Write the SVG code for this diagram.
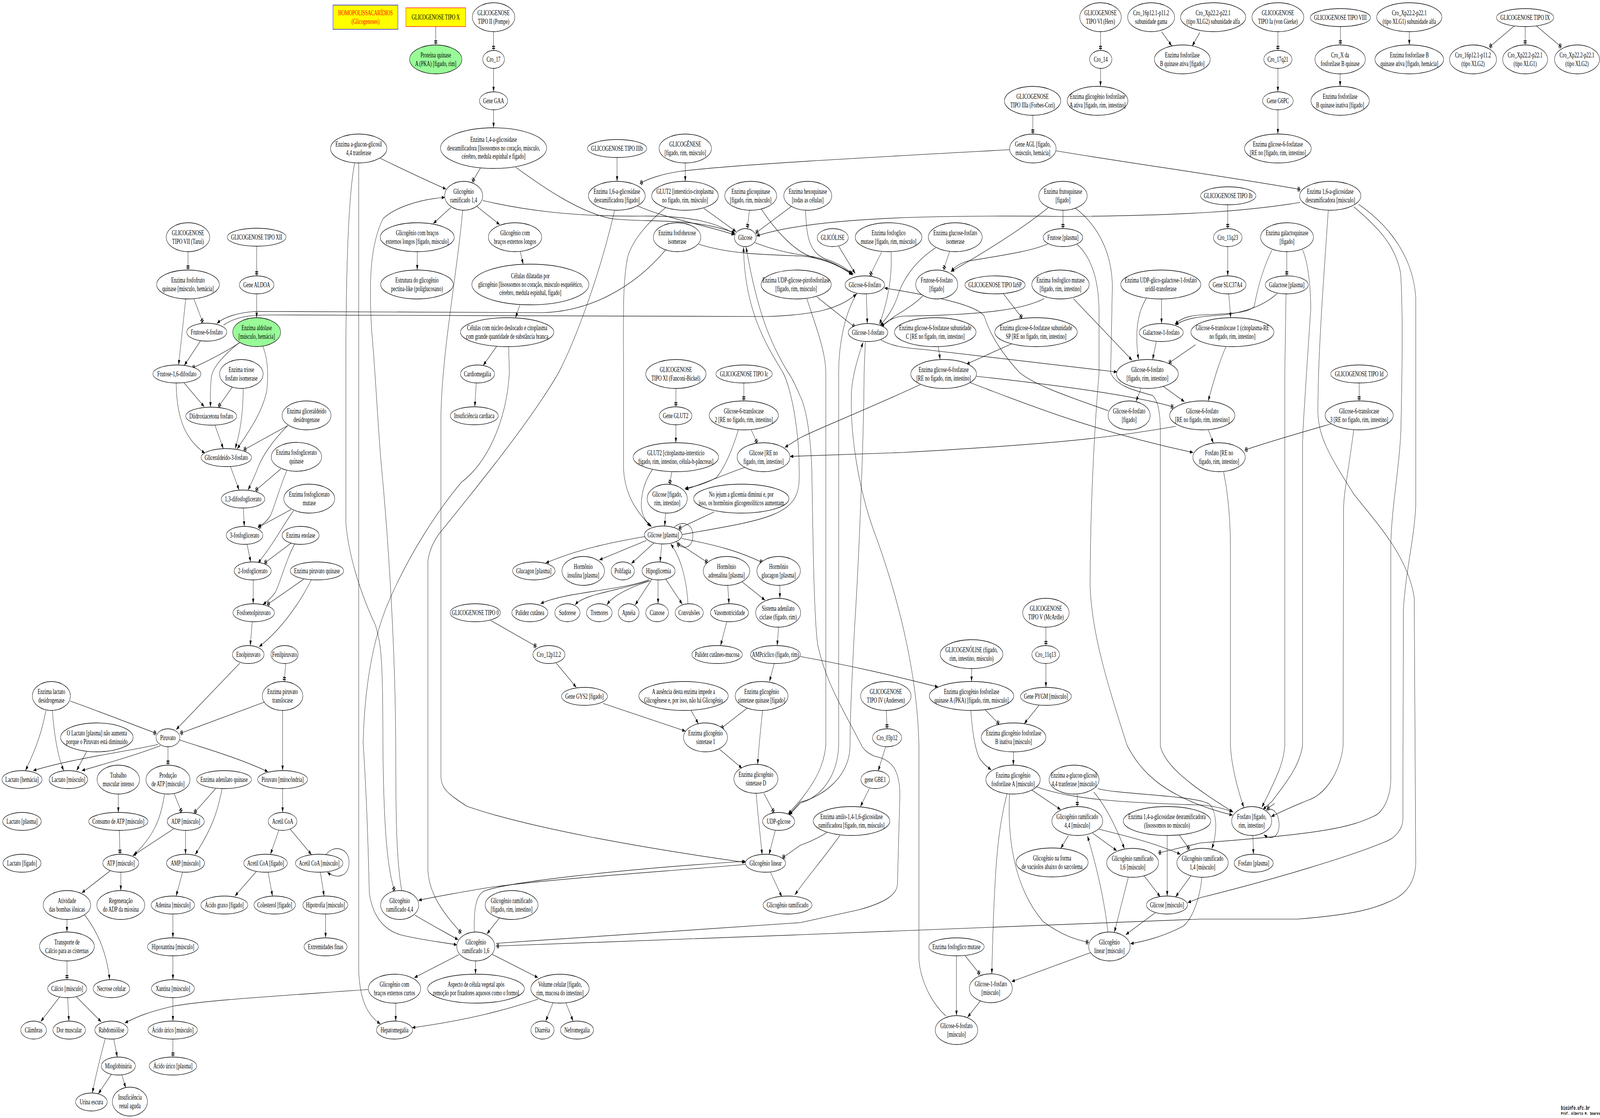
<svg xmlns="http://www.w3.org/2000/svg" width="6477" height="2861" viewBox="0 0 6477 2861" preserveAspectRatio="none">
<style>
svg{width:100%;height:100%}
.node ellipse{fill:#fff;stroke:#000;stroke-width:1.3}
.green ellipse{fill:#98fb98}
text{font-family:"Liberation Serif","Times New Roman",serif;font-size:18.67px;text-anchor:middle;fill:#000}
#edges path{fill:none;stroke:#000;stroke-width:1.2}
#edges .a{marker-end:url(#ah)}
#edges .t{marker-end:url(#tt)}
.foot{font-family:"Liberation Mono","DejaVu Sans Mono",monospace;font-weight:bold;text-anchor:start}
</style>
<defs>
<marker id="ah" markerUnits="userSpaceOnUse" markerWidth="14" markerHeight="10" refX="13" refY="5" orient="auto"><path d="M0,0.5L13,5L0,9.5z" fill="#000"/></marker>
<marker id="tt" markerUnits="userSpaceOnUse" markerWidth="14" markerHeight="14" refX="13" refY="7" orient="auto"><path d="M1.5,1h2.6v12h-2.6zM6.5,1h2.6v12h-2.6z" fill="#000"/><path d="M0,7H13" stroke="#000" stroke-width="1.2"/></marker>
</defs>
<rect width="6477" height="2861" fill="#fff"/>
<g id="edges">
<path class="t" d="M1764,68L1764,115"/>
<path class="t" d="M1998,81L1998,129"/>
<path class="a" d="M1998,175L1998,235"/>
<path class="a" d="M1998,281L1998,327"/>
<path class="t" d="M1945,430L1911,466"/>
<path class="a" d="M2088,428C2200,480 2350,545 2480,560C2620,570 2800,555 2975,596"/>
<path class="a" d="M1954,513C2100,535 2300,555 2600,553C2800,552 2900,570 2975,599"/>
<path class="a" d="M2581,527C2700,560 2850,575 2974,601"/>
<path class="a" d="M2849,533L2980,593"/>
<path class="t" d="M3034,538L3025,585"/>
<path class="t" d="M3206,527L3058,597"/>
<path class="a" d="M5263,518C5050,540 4800,552 4300,554C3800,550 3300,555 3062,604"/>
<path class="t" d="M4087,383C3600,400 3000,420 2757,438C2680,445 2620,458 2590,470"/>
<path class="t" d="M4275,386C4600,420 5000,455 5265,485"/>
<path class="a" d="M2498,403L2498,464"/>
<path class="a" d="M2774,417L2774,464"/>
<path class="a" d="M1539,405C1620,430 1720,460 1806,484"/>
<path class="a" d="M1825,531L1754,572"/>
<path class="a" d="M1930,528L2023,575"/>
<path class="a" d="M1689,644L1689,691"/>
<path class="a" d="M2106,644L2118,676"/>
<path class="a" d="M2104,781L2087,813"/>
<path class="a" d="M2011,886L1956,935"/>
<path class="a" d="M1928,980L1922,1041"/>
<path class="a" d="M1873,538C1850,700 1790,900 1785,1060L1785,1990C1790,2020 1811,2030 1889,2063C2137,2118 2600,2170 3018,2207"/>
<path class="t" d="M2488,538C2430,700 2330,870 2261,954C2150,1076 1930,1247 1775,1368C1740,1400 1732,1430 1732,1441L1732,2224C1735,2290 1800,2340 1868,2388"/>
<path class="a" d="M2059,888L2062,954C2050,1080 1971,1185 1868,1234C1780,1300 1650,1420 1560,1560C1500,1660 1475,1780 1470,1900C1480,2000 1488,2100 1495,2285C1510,2350 1560,2380 1620,2392C1700,2405 1780,2410 1850,2418"/>
<path class="a" d="M1452,417L1452,2480C1455,2560 1490,2600 1540,2620"/>
<path class="t" d="M1436,416C1410,500 1400,700 1400,954L1400,1337C1410,1420 1460,1520 1520,1600C1545,1650 1550,1700 1550,1908C1553,2100 1565,2220 1598,2281"/>
<path class="a" d="M1626,2279C1605,2200 1602,2100 1602,1908C1600,1600 1560,1300 1545,1200C1530,1100 1520,950 1505,850C1490,700 1505,620 1550,560C1600,530 1700,510 1801,505"/>
<path class="a" d="M1680,2342C1740,2365 1800,2385 1855,2405"/>
<path class="a" d="M3018,2212C2700,2230 2200,2250 1961,2273C1850,2285 1760,2295 1694,2304"/>
<path class="a" d="M1920,2385C1918,2330 1925,2290 1961,2280C2050,2258 2500,2225 3018,2204"/>
<path class="a" d="M2023,2348L1971,2390"/>
<path class="a" d="M1858,2443L1677,2502"/>
<path class="a" d="M1925,2459L1925,2493"/>
<path class="a" d="M1992,2442L2178,2502"/>
<path class="a" d="M2240,2564L2209,2613"/>
<path class="a" d="M2290,2565L2320,2613"/>
<path class="a" d="M2178,2557C2054,2583 1900,2610 1668,2630"/>
<path class="a" d="M1602,2567L1602,2613"/>
<path class="a" d="M1491,2532C1100,2550 827,2560 700,2575C600,2590 560,2600 505,2618"/>
<path class="t" d="M5377,539C5360,700 5335,900 5335,1057C5340,1120 5377,1161 5480,1264C5560,1330 5700,1420 5725,1530L5731,2206C5731,2250 5700,2280 5656,2297C5573,2327 5470,2341 5253,2352L4860,2352L3240,2392L2008,2421"/>
<path class="t" d="M5480,529C5583,584 5650,630 5670,700C5680,800 5676,954 5671,1100C5665,1200 5632,1300 5630,1400L5630,1993C5630,2040 5600,2080 5557,2090C5470,2115 5377,2133 4860,2157L4688,2183"/>
<path class="a" d="M5500,523C5630,580 5720,660 5731,760L5731,1295C5725,1380 5690,1460 5681,1562L5679,2097C5679,2120 5650,2145 5604,2155C5480,2188 5170,2249 4860,2297L4808,2310"/>
<path class="a" d="M2694,640C2560,740 2380,797 2200,800L1033,797C960,800 905,812 878,828"/>
<path class="a" d="M905,832C950,812 1000,806 1100,806L3100,810C3300,806 3400,790 3467,752"/>
<path class="t" d="M761,644L761,691"/>
<path class="t" d="M1039,630L1039,706"/>
<path class="a" d="M1039,752L1039,813"/>
<path class="t" d="M785,765L822,827"/>
<path class="a" d="M752,765L723,934"/>
<path class="a" d="M811,873L746,935"/>
<path class="t" d="M971,877C900,905 840,925 777,942"/>
<path class="a" d="M966,878C900,912 865,940 857,960C850,990 852,1020 852,1042"/>
<path class="a" d="M1064,886C1085,920 1087,960 1080,1000C1060,1060 1000,1110 960,1149"/>
<path class="a" d="M744,979L827,1041"/>
<path class="a" d="M713,980C715,1060 740,1120 830,1160"/>
<path class="t" d="M940,991L883,1042"/>
<path class="a" d="M984,994C985,1050 975,1100 952,1148"/>
<path class="a" d="M870,1088L904,1148"/>
<path class="t" d="M1165,1089L985,1152"/>
<path class="a" d="M1165,1089C1100,1130 1060,1170 1044,1197C1030,1220 1015,1240 1004,1254"/>
<path class="a" d="M933,1194L968,1254"/>
<path class="t" d="M1137,1200L1033,1256"/>
<path class="a" d="M1162,1203C1130,1250 1110,1300 1095,1319C1080,1335 1060,1343 1044,1349"/>
<path class="a" d="M985,1300L989,1347"/>
<path class="t" d="M1178,1304L1044,1350"/>
<path class="a" d="M1188,1307C1150,1340 1110,1390 1044,1441"/>
<path class="a" d="M1000,1393L1015,1438"/>
<path class="t" d="M1178,1390L1069,1442"/>
<path class="a" d="M1193,1392C1160,1430 1140,1480 1116,1514C1100,1530 1080,1540 1064,1547"/>
<path class="a" d="M1025,1484L1025,1545"/>
<path class="t" d="M1230,1482L1080,1548"/>
<path class="a" d="M1261,1483C1200,1560 1120,1620 1049,1655"/>
<path class="a" d="M1021,1591L1013,1652"/>
<path class="a" d="M971,1697L713,1867"/>
<path class="t" d="M1157,1698L1150,1744"/>
<path class="t" d="M1069,1797L728,1877"/>
<path class="t" d="M284,1794C400,1820 520,1850 634,1877"/>
<path class="a" d="M186,1818C170,1870 150,1910 103,1972"/>
<path class="a" d="M212,1818C218,1870 230,1930 258,1972"/>
<path class="a" d="M640,1905C500,1925 300,1940 134,1972"/>
<path class="a" d="M650,1908C560,1930 450,1950 331,1972"/>
<path class="a" d="M351,1923L310,1972"/>
<path class="t" d="M680,1911L680,1958"/>
<path class="a" d="M726,1893C800,1910 950,1935 1085,1975"/>
<path class="a" d="M1144,1818L1144,1972"/>
<path class="a" d="M479,2032L479,2079"/>
<path class="t" d="M705,2031L736,2080"/>
<path class="t" d="M873,2018L785,2081"/>
<path class="a" d="M899,2018C880,2080 858,2120 790,2187"/>
<path class="a" d="M666,2032C650,2100 620,2140 542,2188"/>
<path class="a" d="M703,2121L537,2190"/>
<path class="a" d="M751,2125L751,2186"/>
<path class="t" d="M483,2125L486,2186"/>
<path class="a" d="M1144,2018L1144,2079"/>
<path class="a" d="M1129,2124L1095,2186"/>
<path class="a" d="M1175,2122L1261,2187"/>
<path class="a" d="M1320,2187C1350,2160 1413,2170 1413,2206C1413,2245 1360,2250 1325,2232"/>
<path class="a" d="M1038,2230L951,2293"/>
<path class="a" d="M1085,2231L1103,2293"/>
<path class="a" d="M1297,2232L1312,2293"/>
<path class="a" d="M1318,2339L1318,2400"/>
<path class="a" d="M449,2227L331,2285"/>
<path class="a" d="M489,2232L489,2279"/>
<path class="a" d="M739,2232L713,2293"/>
<path class="a" d="M700,2339L700,2400"/>
<path class="a" d="M700,2446L700,2507"/>
<path class="a" d="M700,2553L700,2613"/>
<path class="t" d="M700,2659L700,2705"/>
<path class="a" d="M271,2353L271,2385"/>
<path class="a" d="M341,2340C390,2380 430,2430 444,2507"/>
<path class="t" d="M271,2459L271,2507"/>
<path class="a" d="M243,2550L165,2614"/>
<path class="a" d="M274,2553L279,2613"/>
<path class="a" d="M308,2550L410,2615"/>
<path class="a" d="M460,2658L475,2705"/>
<path class="a" d="M426,2658C400,2720 385,2760 374,2797"/>
<path class="a" d="M451,2749L398,2799"/>
<path class="a" d="M493,2750L509,2784"/>
<path class="t" d="M4455,81L4455,129"/>
<path class="a" d="M4455,175L4455,221"/>
<path class="a" d="M4702,81L4743,117"/>
<path class="a" d="M4857,83L4826,118"/>
<path class="t" d="M4181,295L4181,343"/>
<path class="t" d="M5173,81L5173,129"/>
<path class="a" d="M5173,175L5173,235"/>
<path class="a" d="M5173,281L5173,343"/>
<path class="t" d="M5426,68L5426,115"/>
<path class="a" d="M5425,189L5425,221"/>
<path class="a" d="M5705,81L5705,115"/>
<path class="t" d="M6131,66L6028,121"/>
<path class="t" d="M6174,68L6174,115"/>
<path class="t" d="M6219,66L6322,121"/>
<path class="t" d="M4303,538L4303,585"/>
<path class="a" d="M4244,531C4150,580 4000,640 3850,695"/>
<path class="a" d="M4242,624C4170,645 4015,657 3912,669C3880,676 3860,685 3850,696"/>
<path class="t" d="M3844,644L3819,691"/>
<path class="a" d="M4354,533C4450,580 4500,650 4503,730L4496,954C4520,990 4600,1000 4666,1012C4695,1030 4697,1076 4697,1100L4697,1908C4710,1950 4790,2000 4992,2078"/>
<path class="a" d="M4360,625C4420,660 4449,720 4449,800L4449,954C4430,1100 4413,1300 4413,1502C4420,1620 4480,1745 4563,1908C4614,1969 4700,2040 4990,2086"/>
<path class="a" d="M3395,630L3462,700"/>
<path class="t" d="M3569,645L3521,706"/>
<path class="a" d="M3607,645C3612,700 3600,760 3560,830"/>
<path class="a" d="M3788,634C3700,670 3650,720 3633,760C3610,800 3580,820 3562,834"/>
<path class="a" d="M3082,535C3150,600 3230,650 3300,660C3360,668 3410,685 3450,700"/>
<path class="a" d="M3261,538C3265,600 3271,645 3343,663C3400,675 3430,690 3455,702"/>
<path class="a" d="M3056,621C3150,645 3240,652 3300,658C3360,665 3410,685 3452,704"/>
<path class="a" d="M2829,625C2950,650 3100,652 3240,655C3330,660 3400,680 3450,703"/>
<path class="a" d="M3507,752L3511,828"/>
<path class="a" d="M3736,757C3700,780 3653,797 3620,810C3600,820 3580,830 3566,836"/>
<path class="a" d="M4227,764C4150,790 4000,806 3653,809C3610,812 3585,825 3566,837"/>
<path class="t" d="M3307,760L3462,838"/>
<path class="a" d="M3566,870C3610,885 3650,890 3750,895L4522,952"/>
<path class="t" d="M4061,751L4139,815"/>
<path class="a" d="M3798,887L3806,920"/>
<path class="a" d="M4098,879L3912,932"/>
<path class="a" d="M4486,1051C4350,1020 4200,990 4128,954C4050,900 4005,852 3985,810C3960,782 3800,760 3580,737"/>
<path class="a" d="M4619,994L4599,1027"/>
<path class="a" d="M4707,988L4795,1028"/>
<path class="a" d="M4963,887C4940,920 4922,954 4891,1026"/>
<path class="a" d="M4891,1100L4912,1134"/>
<path class="t" d="M5387,1085C5250,1110 5139,1130 5038,1152"/>
<path class="t" d="M5502,980L5502,1026"/>
<path class="a" d="M5480,1100C5460,1200 5440,1260 5439,1300L5437,1908C5430,1960 5380,2030 5294,2048C5230,2065 5190,2075 5146,2090"/>
<path class="a" d="M4953,1206C4970,1260 4981,1320 4981,1400L4981,1908C4985,1960 5010,2020 5035,2066"/>
<path class="a" d="M5072,2138L5074,2186"/>
<path class="a" d="M5122,2075C5160,2060 5178,2090 5178,2110C5178,2140 5150,2152 5116,2136"/>
<path class="t" d="M5160,2056L5127,2071"/>
<path class="a" d="M5273,639C5300,680 5306,750 5306,791L5289,954C5280,1050 5273,1100 5273,1143L5273,1908C5260,1960 5211,1999 5150,2050L5112,2072"/>
<path class="a" d="M5206,752L5201,954L5201,1908C5195,1950 5180,1975 5108,2066"/>
<path class="t" d="M4970,524L4970,585"/>
<path class="a" d="M4970,631L4970,706"/>
<path class="a" d="M4974,752L4982,813"/>
<path class="t" d="M5209,644L5209,706"/>
<path class="a" d="M5149,640C5110,690 5090,740 5077,785C5050,800 4994,803 4860,806C4810,808 4780,815 4756,830"/>
<path class="a" d="M5170,751C5130,775 5060,798 4950,806C4860,810 4800,813 4758,832"/>
<path class="a" d="M4702,765L4702,828"/>
<path class="a" d="M4640,764C4605,800 4593,852 4609,920"/>
<path class="a" d="M4681,873L4666,920"/>
<path class="a" d="M4345,764L4583,922"/>
<path class="t" d="M4840,882L4730,930"/>
<path class="a" d="M3726,984C3500,1050 3300,1100 3240,1120L3177,1145"/>
<path class="a" d="M4759,1091C4500,1120 4273,1136 3653,1158L3198,1168"/>
<path class="a" d="M3922,978C4100,1020 4400,1100 4830,1158"/>
<path class="t" d="M3953,963C4200,980 4583,1009 4752,1042"/>
<path class="t" d="M2736,994L2736,1041"/>
<path class="a" d="M2736,1087L2736,1133"/>
<path class="t" d="M3011,980L3011,1026"/>
<path class="t" d="M3041,1100L3066,1135"/>
<path class="a" d="M2989,1100C2960,1160 2932,1197 2901,1222C2850,1240 2810,1245 2772,1250"/>
<path class="a" d="M3015,1196C2950,1210 2880,1230 2774,1253"/>
<path class="t" d="M2720,1207L2710,1240"/>
<path class="a" d="M2643,1200C2610,1230 2596,1260 2596,1295C2598,1320 2615,1335 2638,1348"/>
<path class="a" d="M2695,531C2640,560 2560,610 2540,660C2520,730 2524,800 2524,954L2524,1200C2530,1270 2580,1310 2633,1347"/>
<path class="a" d="M2694,1313L2691,1346"/>
<path class="t" d="M2891,1310L2746,1353"/>
<path class="t" d="M2728,1350C2760,1330 2805,1340 2805,1370C2805,1400 2770,1410 2740,1390"/>
<path class="a" d="M2612,1373C2500,1385 2343,1404 2209,1441"/>
<path class="a" d="M2617,1383L2426,1433"/>
<path class="a" d="M2648,1389L2556,1442"/>
<path class="a" d="M2679,1392L2672,1438"/>
<path class="t" d="M2736,1386L2866,1440"/>
<path class="t" d="M2760,1378C2900,1395 2990,1410 3088,1440"/>
<path class="a" d="M2760,1368C3100,1330 3230,1320 3235,1230C3240,1100 3200,990 3170,954C3110,890 3013,800 3010,632"/>
<path class="a" d="M2008,2414C2447,2395 2900,2375 3240,2361L3478,2328C3581,2310 3633,2290 3633,2261L3643,2030C3640,1970 3612,1944 3540,1935C3500,1925 3488,1908 3488,1908C3400,1800 3343,1745 3310,1650C3292,1562 3290,1300 3286,1197C3280,1100 3260,1040 3240,1015C3220,985 3200,960 3191,954C3120,880 3066,800 3020,632"/>
<path class="a" d="M2627,1483C2530,1510 2281,1515 2188,1545"/>
<path class="a" d="M2627,1486C2500,1512 2364,1520 2328,1548"/>
<path class="a" d="M2632,1486C2540,1505 2480,1525 2457,1548"/>
<path class="a" d="M2638,1483L2571,1548"/>
<path class="a" d="M2664,1484L2664,1545"/>
<path class="a" d="M2695,1482L2762,1546"/>
<path class="a" d="M2785,1545C2780,1490 2760,1430 2715,1392"/>
<path class="a" d="M2946,1498L2951,1545"/>
<path class="a" d="M3004,1489L3097,1536"/>
<path class="a" d="M3157,1498L3157,1531"/>
<path class="a" d="M2942,1591L2917,1652"/>
<path class="a" d="M3152,1605L3146,1652"/>
<path class="a" d="M3134,1698L3115,1744"/>
<path class="a" d="M3240,1680C3500,1710 3650,1735 3798,1758"/>
<path class="t" d="M1987,1588L2173,1655"/>
<path class="a" d="M2252,1697L2333,1759"/>
<path class="a" d="M2441,1800L2775,1871"/>
<path class="a" d="M2798,1818L2827,1852"/>
<path class="t" d="M3025,1812L2917,1865"/>
<path class="a" d="M3087,1818C3080,1860 3072,1908 3067,1956"/>
<path class="a" d="M2912,1917L3004,1966"/>
<path class="t" d="M3092,2030L3134,2080"/>
<path class="a" d="M3061,2030C3070,2100 3080,2150 3085,2187"/>
<path class="a" d="M3139,2124L3113,2187"/>
<path class="a" d="M3266,764C3300,830 3343,900 3343,954L3343,1908C3335,1960 3300,2000 3240,2048L3190,2083"/>
<path class="a" d="M3470,750C3420,800 3395,880 3395,954L3395,1908C3390,1990 3320,2040 3240,2055L3195,2086"/>
<path class="a" d="M3829,2600C3760,2560 3725,2500 3720,2456L3720,1908C3715,1745 3653,1562 3550,1380C3470,1250 3440,1100 3447,1000C3452,960 3470,920 3494,876"/>
<path class="a" d="M3503,873L3498,954C3497,1100 3480,1400 3460,1600C3447,1750 3441,1850 3441,1908C3440,2000 3300,2045 3240,2052L3192,2086"/>
<path class="a" d="M3519,2018L3483,2064"/>
<path class="t" d="M3348,2130C3300,2150 3240,2163 3240,2163L3166,2196"/>
<path class="a" d="M3400,2138C3330,2200 3260,2250 3218,2290"/>
<path class="a" d="M3118,2231L3165,2295"/>
<path class="t" d="M3588,1818L3591,1865"/>
<path class="a" d="M3585,1911L3555,1973"/>
<path class="t" d="M4234,1605L4234,1652"/>
<path class="a" d="M4234,1698L4234,1759"/>
<path class="a" d="M4206,1805L4146,1852"/>
<path class="a" d="M3933,1711L3933,1744"/>
<path class="t" d="M3989,1817L4046,1854"/>
<path class="a" d="M3930,1818C3935,1860 3943,1908 3963,1938C3980,1955 3995,1962 4013,1970"/>
<path class="a" d="M4103,1924L4102,1958"/>
<path class="a" d="M4175,2021L4294,2072"/>
<path class="a" d="M4077,2030C4040,2121 4025,2212 4015,2492"/>
<path class="t" d="M4087,2031C4077,2151 4108,2273 4222,2358C4300,2395 4360,2405 4408,2412"/>
<path class="a" d="M4185,2011C4325,2045 4532,2054 4860,2060C4920,2063 4960,2070 4990,2078"/>
<path class="t" d="M4361,2032L4361,2064"/>
<path class="a" d="M4428,2027C4480,2066 4521,2121 4552,2172"/>
<path class="a" d="M4444,2018C4521,2033 4860,2035 4900,2060C4925,2080 4930,2130 4905,2172"/>
<path class="a" d="M4325,2138L4294,2171"/>
<path class="a" d="M4423,2132L4521,2177"/>
<path class="a" d="M4449,2122C4635,2151 4700,2165 4779,2186"/>
<path class="a" d="M4485,2385C4470,2300 4440,2220 4402,2139"/>
<path class="a" d="M4725,2138L4725,2293"/>
<path class="t" d="M4774,2137L4816,2174"/>
<path class="a" d="M4630,2240L4697,2295"/>
<path class="a" d="M4821,2241L4759,2295"/>
<path class="a" d="M4568,2244L4511,2386"/>
<path class="a" d="M4676,2336L4557,2392"/>
<path class="a" d="M4865,2246C4860,2290 4830,2350 4790,2370C4700,2400 4620,2410 4576,2415"/>
<path class="a" d="M4418,2437L4095,2512"/>
<path class="t" d="M3906,2445L3968,2494"/>
<path class="a" d="M3872,2446L3872,2599"/>
<path class="a" d="M3968,2562L3917,2603"/>
</g>
<g id="n-homo"><rect x="1348" y="13" width="263" height="62" fill="#ffff00" stroke="#0000ff" stroke-width="1.3"/><text x="1479.5" y="39.25" style="fill:#ff0000"><tspan x="1479.5">HOMOPOLISSACARÍDIOS</tspan><tspan x="1479.5" dy="21.5">(Glicogenoses)</tspan></text></g>
<g id="n-tipox"><rect x="1643" y="20" width="242" height="48" fill="#ffff00" stroke="#ff0000" stroke-width="1.3"/><text x="1764" y="50">GLICOGENOSE TIPO X</text></g>
<g id="n-tipoii" class="node"><ellipse cx="1998" cy="44" rx="86" ry="37"/><text x="1998" y="39.25"><tspan x="1998">GLICOGENOSE</tspan><tspan x="1998" dy="21.5">TIPO II (Pompe)</tspan></text></g>
<g id="n-pka" class="node green"><ellipse cx="1764" cy="152" rx="106" ry="37"/><text x="1764" y="147.25"><tspan x="1764">Proteína quinase</tspan><tspan x="1764" dy="21.5">A (PKA) [fígado, rim]</tspan></text></g>
<g id="n-cro17" class="node"><ellipse cx="1998" cy="152" rx="44" ry="23"/><text x="1998" y="158">Cro_17</text></g>
<g id="n-gaa" class="node"><ellipse cx="1998" cy="258" rx="57" ry="23"/><text x="1998" y="264">Gene GAA</text></g>
<g id="n-e14a" class="node"><ellipse cx="1998" cy="379" rx="215" ry="52"/><text x="1998" y="363.5"><tspan x="1998">Enzima 1,4-a-glicosidase</tspan><tspan x="1998" dy="21.5">desramificadora [lisossomos no coração, músculo,</tspan><tspan x="1998" dy="21.5">cérebro, medula espinhal e fígado]</tspan></text></g>
<g id="n-aglucon" class="node"><ellipse cx="1452" cy="380" rx="114" ry="37"/><text x="1452" y="375.25"><tspan x="1452">Enzima a-glucon-glicosil</tspan><tspan x="1452" dy="21.5">4,4 tranferase</tspan></text></g>
<g id="n-tipoiiib" class="node"><ellipse cx="2498" cy="380" rx="120" ry="23"/><text x="2498" y="386">GLICOGENOSE TIPO IIIb</text></g>
<g id="n-glicogenese" class="node"><ellipse cx="2774" cy="380" rx="106" ry="37"/><text x="2774" y="375.25"><tspan x="2774">GLICOGÊNESE</tspan><tspan x="2774" dy="21.5">[fígado, rim, músculo]</tspan></text></g>
<g id="n-tipovi" class="node"><ellipse cx="4455" cy="44" rx="84" ry="37"/><text x="4455" y="39.25"><tspan x="4455">GLICOGENOSE</tspan><tspan x="4455" dy="21.5">TIPO VI (Hers)</tspan></text></g>
<g id="n-cro16gama" class="node"><ellipse cx="4660" cy="44" rx="95" ry="37"/><text x="4660" y="39.25"><tspan x="4660">Cro_16p12.1-p11.2</tspan><tspan x="4660" dy="21.5">subunidade gama</tspan></text></g>
<g id="n-croxp2alfa" class="node"><ellipse cx="4911" cy="44" rx="132" ry="37"/><text x="4911" y="39.25"><tspan x="4911">Cro_Xp22.2-p22.1</tspan><tspan x="4911" dy="21.5">(tipo XLG2) subunidade alfa</tspan></text></g>
<g id="n-tipoia" class="node"><ellipse cx="5173" cy="44" rx="105" ry="37"/><text x="5173" y="39.25"><tspan x="5173">GLICOGENOSE</tspan><tspan x="5173" dy="21.5">TIPO Ia (von Gierke)</tspan></text></g>
<g id="n-tipoviii" class="node"><ellipse cx="5426" cy="45" rx="122" ry="23"/><text x="5426" y="51">GLICOGENOSE TIPO VIII</text></g>
<g id="n-croxp1alfa" class="node"><ellipse cx="5705" cy="44" rx="132" ry="37"/><text x="5705" y="39.25"><tspan x="5705">Cro_Xp22.2-p22.1</tspan><tspan x="5705" dy="21.5">(tipo XLG1) subunidade alfa</tspan></text></g>
<g id="n-tipoix" class="node"><ellipse cx="6174" cy="45" rx="116" ry="23"/><text x="6174" y="51">GLICOGENOSE TIPO IX</text></g>
<g id="n-cro14" class="node"><ellipse cx="4456" cy="152" rx="45" ry="23"/><text x="4456" y="158">Cro_14</text></g>
<g id="n-fbqaf" class="node"><ellipse cx="4786" cy="152" rx="113" ry="37"/><text x="4786" y="147.25"><tspan x="4786">Enzima fosforilase</tspan><tspan x="4786" dy="21.5">B quinase ativa [fígado]</tspan></text></g>
<g id="n-cro17q21" class="node"><ellipse cx="5173" cy="152" rx="57" ry="23"/><text x="5173" y="158">Cro_17q21</text></g>
<g id="n-croxdaf" class="node"><ellipse cx="5425" cy="152" rx="102" ry="37"/><text x="5425" y="147.25"><tspan x="5425">Cro_X da</tspan><tspan x="5425" dy="21.5">fosforilase B quinase</tspan></text></g>
<g id="n-fbqafh" class="node"><ellipse cx="5705" cy="152" rx="139" ry="37"/><text x="5705" y="147.25"><tspan x="5705">Enzima fosforilase B</tspan><tspan x="5705" dy="21.5">quinase ativa [fígado, hemácia]</tspan></text></g>
<g id="n-cro16x2" class="node"><ellipse cx="5963" cy="152" rx="95" ry="37"/><text x="5963" y="147.25"><tspan x="5963">Cro_16p12.1-p11.2</tspan><tspan x="5963" dy="21.5">(tipo XLG2)</tspan></text></g>
<g id="n-croxpx1" class="node"><ellipse cx="6174" cy="152" rx="91" ry="37"/><text x="6174" y="147.25"><tspan x="6174">Cro_Xp22.2-p22.1</tspan><tspan x="6174" dy="21.5">(tipo XLG1)</tspan></text></g>
<g id="n-croxpx2" class="node"><ellipse cx="6384" cy="152" rx="91" ry="37"/><text x="6384" y="147.25"><tspan x="6384">Cro_Xp22.2-p22.1</tspan><tspan x="6384" dy="21.5">(tipo XLG2)</tspan></text></g>
<g id="n-gfa" class="node"><ellipse cx="4443" cy="258" rx="123" ry="37"/><text x="4443" y="253.25"><tspan x="4443">Enzima glicogênio fosforilase</tspan><tspan x="4443" dy="21.5">A ativa [fígado, rim, intestino]</tspan></text></g>
<g id="n-tipoiiia" class="node"><ellipse cx="4180" cy="258" rx="114" ry="37"/><text x="4180" y="253.25"><tspan x="4180">GLICOGENOSE</tspan><tspan x="4180" dy="21.5">TIPO IIIa (Forbes-Cori)</tspan></text></g>
<g id="n-g6pc" class="node"><ellipse cx="5173" cy="258" rx="62" ry="23"/><text x="5173" y="264">Gene G6PC</text></g>
<g id="n-fbqi" class="node"><ellipse cx="5425" cy="258" rx="118" ry="37"/><text x="5425" y="253.25"><tspan x="5425">Enzima fosforilase</tspan><tspan x="5425" dy="21.5">B quinase inativa [fígado]</tspan></text></g>
<g id="n-agl" class="node"><ellipse cx="4181" cy="380" rx="94" ry="37"/><text x="4181" y="375.25"><tspan x="4181">Gene AGL [fígado,</tspan><tspan x="4181" dy="21.5">músculo, hemácia]</tspan></text></g>
<g id="n-g6pase1" class="node"><ellipse cx="5173" cy="380" rx="135" ry="37"/><text x="5173" y="375.25"><tspan x="5173">Enzima glicose-6-fosfatase</tspan><tspan x="5173" dy="21.5">[RE no [fígado, rim, intestino]</tspan></text></g>
<g id="n-gr14" class="node"><ellipse cx="1877" cy="501" rx="77" ry="37"/><text x="1877" y="496.25"><tspan x="1877">Glicogênio</tspan><tspan x="1877" dy="21.5">ramificado 1,4</tspan></text></g>
<g id="n-e16f" class="node"><ellipse cx="2497" cy="501" rx="115" ry="37"/><text x="2497" y="496.25"><tspan x="2497">Enzima 1,6-a-glicosidase</tspan><tspan x="2497" dy="21.5">desramificadora [fígado]</tspan></text></g>
<g id="n-glut2i" class="node"><ellipse cx="2773" cy="501" rx="135" ry="37"/><text x="2773" y="496.25"><tspan x="2773">GLUT2 [interstício-citoplasma</tspan><tspan x="2773" dy="21.5">no fígado, rim, músculo]</tspan></text></g>
<g id="n-glicoq" class="node"><ellipse cx="3039" cy="501" rx="105" ry="37"/><text x="3039" y="496.25"><tspan x="3039">Enzima glicoquinase</tspan><tspan x="3039" dy="21.5">[fígado, rim, músculo]</tspan></text></g>
<g id="n-hexoq" class="node"><ellipse cx="3270" cy="501" rx="97" ry="37"/><text x="3270" y="496.25"><tspan x="3270">Enzima hexoquinase</tspan><tspan x="3270" dy="21.5">[todas as células]</tspan></text></g>
<g id="n-frutoq" class="node"><ellipse cx="4303" cy="501" rx="98" ry="37"/><text x="4303" y="496.25"><tspan x="4303">Enzima frutoquinase</tspan><tspan x="4303" dy="21.5">[fígado]</tspan></text></g>
<g id="n-tipoib" class="node"><ellipse cx="4972" cy="501" rx="112" ry="23"/><text x="4972" y="507">GLICOGENOSE TIPO Ib</text></g>
<g id="n-e16m" class="node"><ellipse cx="5385" cy="501" rx="124" ry="37"/><text x="5385" y="496.25"><tspan x="5385">Enzima 1,6-a-glicosidase</tspan><tspan x="5385" dy="21.5">desramificadora [músculo]</tspan></text></g>
<g id="n-tipovii" class="node"><ellipse cx="761" cy="607" rx="88" ry="37"/><text x="761" y="602.25"><tspan x="761">GLICOGENOSE</tspan><tspan x="761" dy="21.5">TIPO VII (Tarui)</tspan></text></g>
<g id="n-tipoxii" class="node"><ellipse cx="1039" cy="607" rx="119" ry="23"/><text x="1039" y="613">GLICOGENOSE TIPO XII</text></g>
<g id="n-gblfm" class="node"><ellipse cx="1689" cy="607" rx="150" ry="37"/><text x="1689" y="602.25"><tspan x="1689">Glicogênio com braços</tspan><tspan x="1689" dy="21.5">externos longos [fígado, músculo]</tspan></text></g>
<g id="n-gbl" class="node"><ellipse cx="2085" cy="607" rx="108" ry="37"/><text x="2085" y="602.25"><tspan x="2085">Glicogênio com</tspan><tspan x="2085" dy="21.5">braços externos longos</tspan></text></g>
<g id="n-fhi" class="node"><ellipse cx="2741" cy="607" rx="96" ry="37"/><text x="2741" y="602.25"><tspan x="2741">Enzima fosfohexose</tspan><tspan x="2741" dy="21.5">isomerase</tspan></text></g>
<g id="n-glicose" class="node"><ellipse cx="3017" cy="608" rx="44" ry="23"/><text x="3017" y="614">Glicose</text></g>
<g id="n-glicolise" class="node"><ellipse cx="3371" cy="608" rx="63" ry="23"/><text x="3371" y="614">GLICÓLISE</text></g>
<g id="n-fgm1" class="node"><ellipse cx="3597" cy="607" rx="135" ry="37"/><text x="3597" y="602.25"><tspan x="3597">Enzima fosfoglico</tspan><tspan x="3597" dy="21.5">mutase [fígado, rim, músculo]</tspan></text></g>
<g id="n-gfi" class="node"><ellipse cx="3867" cy="607" rx="109" ry="37"/><text x="3867" y="602.25"><tspan x="3867">Enzima glucose-fosfato</tspan><tspan x="3867" dy="21.5">isomerase</tspan></text></g>
<g id="n-frutp" class="node"><ellipse cx="4303" cy="608" rx="80" ry="23"/><text x="4303" y="614">Frutose [plasma]</text></g>
<g id="n-cro11q23" class="node"><ellipse cx="4970" cy="608" rx="58" ry="23"/><text x="4970" y="614">Cro_11q23</text></g>
<g id="n-galq" class="node"><ellipse cx="5210" cy="607" rx="107" ry="37"/><text x="5210" y="602.25"><tspan x="5210">Enzima galactoquinase</tspan><tspan x="5210" dy="21.5">[fígado]</tspan></text></g>
<g id="n-pfk" class="node"><ellipse cx="761" cy="728" rx="127" ry="37"/><text x="761" y="723.25"><tspan x="761">Enzima fosfofruto</tspan><tspan x="761" dy="21.5">quinase [músculo, hemácia]</tspan></text></g>
<g id="n-aldoa" class="node"><ellipse cx="1039" cy="729" rx="70" ry="23"/><text x="1039" y="735">Gene ALDOA</text></g>
<g id="n-estrut" class="node"><ellipse cx="1688" cy="728" rx="147" ry="37"/><text x="1688" y="723.25"><tspan x="1688">Estrutura do glicogênio</tspan><tspan x="1688" dy="21.5">pectina-like (poliglucosano)</tspan></text></g>
<g id="n-celdil" class="node"><ellipse cx="2147" cy="728" rx="237" ry="52"/><text x="2147" y="712.5"><tspan x="2147">Células dilatadas por</tspan><tspan x="2147" dy="21.5">glicogênio [lisossomos no coração, músculo esquelético,</tspan><tspan x="2147" dy="21.5">cérebro, medula espinhal, fígado]</tspan></text></g>
<g id="n-udppiro" class="node"><ellipse cx="3223" cy="728" rx="142" ry="37"/><text x="3223" y="723.25"><tspan x="3223">Enzima UDP-glicose-pirofosforilase</tspan><tspan x="3223" dy="21.5">[fígado, rim, músculo]</tspan></text></g>
<g id="n-g6p" class="node"><ellipse cx="3501" cy="729" rx="80" ry="23"/><text x="3501" y="735">Glicose-6-fosfato</text></g>
<g id="n-f6pf" class="node"><ellipse cx="3792" cy="728" rx="85" ry="37"/><text x="3792" y="723.25"><tspan x="3792">Frutose-6-fosfato</tspan><tspan x="3792" dy="21.5">[fígado]</tspan></text></g>
<g id="n-iasp" class="node"><ellipse cx="4028" cy="729" rx="122" ry="23"/><text x="4028" y="735">GLICOGENOSE TIPO IaSP</text></g>
<g id="n-fgm2" class="node"><ellipse cx="4293" cy="728" rx="116" ry="37"/><text x="4293" y="723.25"><tspan x="4293">Enzima fosfoglico mutase</tspan><tspan x="4293" dy="21.5">[fígado, rim, intestino]</tspan></text></g>
<g id="n-udpgal" class="node"><ellipse cx="4699" cy="728" rx="162" ry="37"/><text x="4699" y="723.25"><tspan x="4699">Enzima UDP-glico-galactose-1-fosfato</tspan><tspan x="4699" dy="21.5">uridil-transferase</tspan></text></g>
<g id="n-slc" class="node"><ellipse cx="4969" cy="729" rx="75" ry="23"/><text x="4969" y="735">Gene SLC37A4</text></g>
<g id="n-galp" class="node"><ellipse cx="5209" cy="729" rx="87" ry="23"/><text x="5209" y="735">Galactose [plasma]</text></g>
<g id="n-f6p" class="node"><ellipse cx="837" cy="850" rx="81" ry="23"/><text x="837" y="856">Frutose-6-fosfato</text></g>
<g id="n-aldolase" class="node green"><ellipse cx="1039" cy="850" rx="97" ry="37"/><text x="1039" y="845.25"><tspan x="1039">Enzima aldolase</tspan><tspan x="1039" dy="21.5">[músculo, hemácia]</tspan></text></g>
<g id="n-celnuc" class="node"><ellipse cx="2053" cy="850" rx="189" ry="37"/><text x="2053" y="845.25"><tspan x="2053">Células com núcleo deslocado e citoplasma</tspan><tspan x="2053" dy="21.5">com grande quantidade de substância branca</tspan></text></g>
<g id="n-g1p" class="node"><ellipse cx="3514" cy="851" rx="80" ry="23"/><text x="3514" y="857">Glicose-1-fosfato</text></g>
<g id="n-g6pasec" class="node"><ellipse cx="3786" cy="850" rx="165" ry="37"/><text x="3786" y="845.25"><tspan x="3786">Enzima glicose-6-fosfatase subunidade</tspan><tspan x="3786" dy="21.5">C [RE no fígado, rim, intestino]</tspan></text></g>
<g id="n-g6pasesp" class="node"><ellipse cx="4194" cy="850" rx="167" ry="37"/><text x="4194" y="845.25"><tspan x="4194">Enzima glicose-6-fosfatase subunidade</tspan><tspan x="4194" dy="21.5">SP [RE no fígado, rim, intestino]</tspan></text></g>
<g id="n-gal1p" class="node"><ellipse cx="4701" cy="851" rx="89" ry="23"/><text x="4701" y="857">Galactose-1-fosfato</text></g>
<g id="n-transl1" class="node"><ellipse cx="4989" cy="850" rx="168" ry="37"/><text x="4989" y="845.25"><tspan x="4989">Glicose-6-translocase 1 (citoplasma-RE</tspan><tspan x="4989" dy="21.5">no fígado, rim, intestino]</tspan></text></g>
<g id="n-f16bp" class="node"><ellipse cx="716" cy="957" rx="97" ry="23"/><text x="716" y="963">Frutose-1,6-difosfato</text></g>
<g id="n-tpi" class="node"><ellipse cx="977" cy="957" rx="88" ry="37"/><text x="977" y="952.25"><tspan x="977">Enzima triose</tspan><tspan x="977" dy="21.5">fosfato isomerase</tspan></text></g>
<g id="n-cardio" class="node"><ellipse cx="1933" cy="957" rx="69" ry="23"/><text x="1933" y="963">Cardiomegalia</text></g>
<g id="n-tipoxi" class="node"><ellipse cx="2736" cy="957" rx="122" ry="37"/><text x="2736" y="952.25"><tspan x="2736">GLICOGENOSE</tspan><tspan x="2736" dy="21.5">TIPO XI (Fanconi-Bickel)</tspan></text></g>
<g id="n-tipoic" class="node"><ellipse cx="3012" cy="957" rx="114" ry="23"/><text x="3012" y="963">GLICOGENOSE TIPO Ic</text></g>
<g id="n-g6pase" class="node"><ellipse cx="3820" cy="957" rx="133" ry="37"/><text x="3820" y="952.25"><tspan x="3820">Enzima glicose-6-fosfatase</tspan><tspan x="3820" dy="21.5">[RE no fígado, rim, intestino]</tspan></text></g>
<g id="n-g6pfri" class="node"><ellipse cx="4645" cy="957" rx="125" ry="37"/><text x="4645" y="952.25"><tspan x="4645">Glicose-6-fosfato</tspan><tspan x="4645" dy="21.5">[fígado, rim, intestino]</tspan></text></g>
<g id="n-tipoid" class="node"><ellipse cx="5502" cy="957" rx="115" ry="23"/><text x="5502" y="963">GLICOGENOSE TIPO Id</text></g>
<g id="n-dhap" class="node"><ellipse cx="855" cy="1065" rx="103" ry="23"/><text x="855" y="1071">Diidroxiacetona fosfato</text></g>
<g id="n-gapdh" class="node"><ellipse cx="1241" cy="1063" rx="99" ry="37"/><text x="1241" y="1058.25"><tspan x="1241">Enzima gliceraldeído</tspan><tspan x="1241" dy="21.5">desidrogenase</tspan></text></g>
<g id="n-inscard" class="node"><ellipse cx="1920" cy="1064" rx="97" ry="23"/><text x="1920" y="1070">Insuficiência cardíaca</text></g>
<g id="n-geneglut2" class="node"><ellipse cx="2735" cy="1064" rx="66" ry="23"/><text x="2735" y="1070">Gene GLUT2</text></g>
<g id="n-transl2" class="node"><ellipse cx="3011" cy="1063" rx="140" ry="37"/><text x="3011" y="1058.25"><tspan x="3011">Glicose-6-translocase</tspan><tspan x="3011" dy="21.5">2 [RE no fígado, rim, intestino]</tspan></text></g>
<g id="n-g6pf" class="node"><ellipse cx="4571" cy="1063" rx="85" ry="37"/><text x="4571" y="1058.25"><tspan x="4571">Glicose-6-fosfato</tspan><tspan x="4571" dy="21.5">[fígado]</tspan></text></g>
<g id="n-g6pre" class="node"><ellipse cx="4867" cy="1063" rx="132" ry="37"/><text x="4867" y="1058.25"><tspan x="4867">Glicose-6-fosfato</tspan><tspan x="4867" dy="21.5">[RE no fígado, rim, intestino]</tspan></text></g>
<g id="n-transl3" class="node"><ellipse cx="5502" cy="1063" rx="138" ry="37"/><text x="5502" y="1058.25"><tspan x="5502">Glicose-6-translocase</tspan><tspan x="5502" dy="21.5">3 [RE no fígado, rim, intestino]</tspan></text></g>
<g id="n-ga3p" class="node"><ellipse cx="916" cy="1171" rx="102" ry="23"/><text x="916" y="1177">Gliceraldeído-3-fosfato</text></g>
<g id="n-pgk" class="node"><ellipse cx="1200" cy="1169" rx="102" ry="37"/><text x="1200" y="1164.25"><tspan x="1200">Enzima fosfoglicerato</tspan><tspan x="1200" dy="21.5">quinase</tspan></text></g>
<g id="n-glut2c" class="node"><ellipse cx="2736" cy="1170" rx="173" ry="37"/><text x="2736" y="1165.25"><tspan x="2736">GLUT2 [citoplasma-interstício</tspan><tspan x="2736" dy="21.5">fígado, rim, intestino, célula-b-pâncreas]</tspan></text></g>
<g id="n-glire" class="node"><ellipse cx="3091" cy="1170" rx="107" ry="37"/><text x="3091" y="1165.25"><tspan x="3091">Glicose [RE no</tspan><tspan x="3091" dy="21.5">fígado, rim, intestino]</tspan></text></g>
<g id="n-fosre" class="node"><ellipse cx="4935" cy="1170" rx="106" ry="37"/><text x="4935" y="1165.25"><tspan x="4935">Fosfato [RE no</tspan><tspan x="4935" dy="21.5">fígado, rim, intestino]</tspan></text></g>
<g id="n-bpg" class="node"><ellipse cx="984" cy="1277" rx="88" ry="23"/><text x="984" y="1283">1,3-difosfoglicerato</text></g>
<g id="n-pgm" class="node"><ellipse cx="1252" cy="1276" rx="103" ry="37"/><text x="1252" y="1271.25"><tspan x="1252">Enzima fosfoglicerato</tspan><tspan x="1252" dy="21.5">mutase</tspan></text></g>
<g id="n-glifri" class="node"><ellipse cx="2701" cy="1276" rx="81" ry="37"/><text x="2701" y="1271.25"><tspan x="2701">Glicose [fígado,</tspan><tspan x="2701" dy="21.5">rim, intestino]</tspan></text></g>
<g id="n-jejum" class="node"><ellipse cx="3001" cy="1276" rx="193" ry="37"/><text x="3001" y="1271.25"><tspan x="3001">No jejum a glicemia diminui e, por</tspan><tspan x="3001" dy="21.5">isso, os hormônios glicogenolíticos aumentam</tspan></text></g>
<g id="n-pg3" class="node"><ellipse cx="990" cy="1370" rx="74" ry="23"/><text x="990" y="1376">3-fosfoglicerato</text></g>
<g id="n-enolase" class="node"><ellipse cx="1217" cy="1370" rx="75" ry="23"/><text x="1217" y="1376">Enzima enolase</text></g>
<g id="n-glipl" class="node"><ellipse cx="2685" cy="1369" rx="76" ry="23"/><text x="2685" y="1375">Glicose [plasma]</text></g>
<g id="n-pg2" class="node"><ellipse cx="1023" cy="1461" rx="75" ry="23"/><text x="1023" y="1467">2-fosfoglicerato</text></g>
<g id="n-pk" class="node"><ellipse cx="1283" cy="1461" rx="108" ry="23"/><text x="1283" y="1467">Enzima piruvato quinase</text></g>
<g id="n-glucagon" class="node"><ellipse cx="2161" cy="1461" rx="86" ry="23"/><text x="2161" y="1467">Glucagon [plasma]</text></g>
<g id="n-insulina" class="node"><ellipse cx="2361" cy="1461" rx="86" ry="37"/><text x="2361" y="1456.25"><tspan x="2361">Hormônio</tspan><tspan x="2361" dy="21.5">insulina [plasma]</tspan></text></g>
<g id="n-polifagia" class="node"><ellipse cx="2521" cy="1461" rx="47" ry="23"/><text x="2521" y="1467">Polifagia</text></g>
<g id="n-hipogl" class="node"><ellipse cx="2666" cy="1461" rx="67" ry="23"/><text x="2666" y="1467">Hipoglicemia</text></g>
<g id="n-adren" class="node"><ellipse cx="2941" cy="1461" rx="94" ry="37"/><text x="2941" y="1456.25"><tspan x="2941">Hormônio</tspan><tspan x="2941" dy="21.5">adrenalina [plasma]</tspan></text></g>
<g id="n-hgluc" class="node"><ellipse cx="3152" cy="1461" rx="88" ry="37"/><text x="3152" y="1456.25"><tspan x="3152">Hormônio</tspan><tspan x="3152" dy="21.5">glucagon [plasma]</tspan></text></g>
<g id="n-pep" class="node"><ellipse cx="1027" cy="1568" rx="84" ry="23"/><text x="1027" y="1574">Fosfoenolpiruvato</text></g>
<g id="n-tipo0" class="node"><ellipse cx="1924" cy="1568" rx="102" ry="23"/><text x="1924" y="1574">GLICOGENOSE TIPO 0</text></g>
<g id="n-palidez" class="node"><ellipse cx="2145" cy="1568" rx="73" ry="23"/><text x="2145" y="1574">Palidez cutânea</text></g>
<g id="n-sudorese" class="node"><ellipse cx="2297" cy="1568" rx="51" ry="23"/><text x="2297" y="1574">Sudorese</text></g>
<g id="n-tremores" class="node"><ellipse cx="2426" cy="1568" rx="52" ry="23"/><text x="2426" y="1574">Tremores</text></g>
<g id="n-apneia" class="node"><ellipse cx="2545" cy="1568" rx="42" ry="23"/><text x="2545" y="1574">Apnéia</text></g>
<g id="n-cianose" class="node"><ellipse cx="2660" cy="1568" rx="46" ry="23"/><text x="2660" y="1574">Cianose</text></g>
<g id="n-convul" class="node"><ellipse cx="2790" cy="1568" rx="57" ry="23"/><text x="2790" y="1574">Convulsões</text></g>
<g id="n-vaso" class="node"><ellipse cx="2953" cy="1568" rx="77" ry="23"/><text x="2953" y="1574">Vasomotricidade</text></g>
<g id="n-sisad" class="node"><ellipse cx="3150" cy="1568" rx="91" ry="37"/><text x="3150" y="1563.25"><tspan x="3150">Sistema adenilato</tspan><tspan x="3150" dy="21.5">ciclase (fígado, rim)</tspan></text></g>
<g id="n-tipov" class="node"><ellipse cx="4234" cy="1568" rx="94" ry="37"/><text x="4234" y="1563.25"><tspan x="4234">GLICOGENOSE</tspan><tspan x="4234" dy="21.5">TIPO V (McArdle)</tspan></text></g>
<g id="n-enolpir" class="node"><ellipse cx="1005" cy="1675" rx="64" ry="23"/><text x="1005" y="1681">Enolpiruvato</text></g>
<g id="n-fenil" class="node"><ellipse cx="1152" cy="1675" rx="55" ry="23"/><text x="1152" y="1681">Fenilpiruvato</text></g>
<g id="n-cro12" class="node"><ellipse cx="2222" cy="1675" rx="65" ry="23"/><text x="2222" y="1681">Cro_12p12.2</text></g>
<g id="n-palcm" class="node"><ellipse cx="2903" cy="1675" rx="102" ry="23"/><text x="2903" y="1681">Palidez cutâneo-mucosa</text></g>
<g id="n-ampc" class="node"><ellipse cx="3139" cy="1675" rx="101" ry="23"/><text x="3139" y="1681">AMPcíclico (fígado, rim)</text></g>
<g id="n-glicogenolise" class="node"><ellipse cx="3933" cy="1674" rx="127" ry="37"/><text x="3933" y="1669.25"><tspan x="3933">GLICOGENÓLISE (fígado,</tspan><tspan x="3933" dy="21.5">rim, intestino, músculo)</tspan></text></g>
<g id="n-cro11q13" class="node"><ellipse cx="4233" cy="1675" rx="56" ry="23"/><text x="4233" y="1681">Cro_11q13</text></g>
<g id="n-ldh" class="node"><ellipse cx="208" cy="1781" rx="77" ry="37"/><text x="208" y="1776.25"><tspan x="208">Enzima lactato</tspan><tspan x="208" dy="21.5">desidrogenase</tspan></text></g>
<g id="n-pirtrans" class="node"><ellipse cx="1144" cy="1781" rx="82" ry="37"/><text x="1144" y="1776.25"><tspan x="1144">Enzima piruvato</tspan><tspan x="1144" dy="21.5">translocase</tspan></text></g>
<g id="n-gys2" class="node"><ellipse cx="2366" cy="1782" rx="93" ry="23"/><text x="2366" y="1788">Gene GYS2 [fígado]</text></g>
<g id="n-ausencia" class="node"><ellipse cx="2767" cy="1781" rx="181" ry="37"/><text x="2767" y="1776.25"><tspan x="2767">A ausência desta enzima impede a</tspan><tspan x="2767" dy="21.5">Glicogênese e, por isso, não há Glicogênio</tspan></text></g>
<g id="n-gsq" class="node"><ellipse cx="3083" cy="1781" rx="107" ry="37"/><text x="3083" y="1776.25"><tspan x="3083">Enzima glicogênio</tspan><tspan x="3083" dy="21.5">sintetase quinase [fígado]</tspan></text></g>
<g id="n-tipoiv" class="node"><ellipse cx="3586" cy="1781" rx="102" ry="37"/><text x="3586" y="1776.25"><tspan x="3586">GLICOGENOSE</tspan><tspan x="3586" dy="21.5">TIPO IV (Andersen)</tspan></text></g>
<g id="n-pkam" class="node"><ellipse cx="3933" cy="1781" rx="171" ry="37"/><text x="3933" y="1776.25"><tspan x="3933">Enzima glicogênio fosforilase</tspan><tspan x="3933" dy="21.5">quinase A (PKA) [fígado, rim, músculo]</tspan></text></g>
<g id="n-pygm" class="node"><ellipse cx="4234" cy="1782" rx="103" ry="23"/><text x="4234" y="1788">Gene PYGM [músculo]</text></g>
<g id="n-olactato" class="node"><ellipse cx="392" cy="1887" rx="147" ry="37"/><text x="392" y="1882.25"><tspan x="392">O Lactato [plasma] não aumenta</tspan><tspan x="392" dy="21.5">porque o Piruvato está diminuído</tspan></text></g>
<g id="n-piruvato" class="node"><ellipse cx="680" cy="1888" rx="48" ry="23"/><text x="680" y="1894">Piruvato</text></g>
<g id="n-gsi" class="node"><ellipse cx="2856" cy="1887" rx="89" ry="37"/><text x="2856" y="1882.25"><tspan x="2856">Enzima glicogênio</tspan><tspan x="2856" dy="21.5">sintetase I</tspan></text></g>
<g id="n-cro03" class="node"><ellipse cx="3591" cy="1888" rx="59" ry="23"/><text x="3591" y="1894">Cro_03p12</text></g>
<g id="n-fbi" class="node"><ellipse cx="4103" cy="1887" rx="131" ry="37"/><text x="4103" y="1882.25"><tspan x="4103">Enzima glicogênio fosforilase</tspan><tspan x="4103" dy="21.5">B inativa [músculo]</tspan></text></g>
<g id="n-lach" class="node"><ellipse cx="89" cy="1995" rx="81" ry="23"/><text x="89" y="2001">Lactato [hemácia]</text></g>
<g id="n-lacm" class="node"><ellipse cx="277" cy="1995" rx="78" ry="23"/><text x="277" y="2001">Lactato [músculo]</text></g>
<g id="n-trab" class="node"><ellipse cx="479" cy="1995" rx="86" ry="37"/><text x="479" y="1990.25"><tspan x="479">Trabalho</tspan><tspan x="479" dy="21.5">muscular intenso</tspan></text></g>
<g id="n-prodatp" class="node"><ellipse cx="680" cy="1995" rx="89" ry="37"/><text x="680" y="1990.25"><tspan x="680">Produção</tspan><tspan x="680" dy="21.5">de ATP [músculo]</tspan></text></g>
<g id="n-adk" class="node"><ellipse cx="907" cy="1995" rx="111" ry="23"/><text x="907" y="2001">Enzima adenilato quinase</text></g>
<g id="n-pirmit" class="node"><ellipse cx="1144" cy="1995" rx="101" ry="23"/><text x="1144" y="2001">Piruvato [mitocôndria]</text></g>
<g id="n-gsd" class="node"><ellipse cx="3060" cy="1993" rx="89" ry="37"/><text x="3060" y="1988.25"><tspan x="3060">Enzima glicogênio</tspan><tspan x="3060" dy="21.5">sintetase D</tspan></text></g>
<g id="n-gbe1" class="node"><ellipse cx="3543" cy="1995" rx="58" ry="23"/><text x="3543" y="2001">gene GBE1</text></g>
<g id="n-fam" class="node"><ellipse cx="4101" cy="1995" rx="110" ry="37"/><text x="4101" y="1990.25"><tspan x="4101">Enzima glicogênio</tspan><tspan x="4101" dy="21.5">fosforilase A [músculo]</tspan></text></g>
<g id="n-agluconm" class="node"><ellipse cx="4348" cy="1995" rx="101" ry="37"/><text x="4348" y="1990.25"><tspan x="4348">Enzima a-glucon-glicosil</tspan><tspan x="4348" dy="21.5">4,4 tranferase [músculo]</tspan></text></g>
<g id="n-lacp" class="node"><ellipse cx="89" cy="2102" rx="78" ry="23"/><text x="89" y="2108">Lactato [plasma]</text></g>
<g id="n-consumo" class="node"><ellipse cx="479" cy="2102" rx="120" ry="23"/><text x="479" y="2108">Consumo de ATP [músculo]</text></g>
<g id="n-adp" class="node"><ellipse cx="752" cy="2102" rx="75" ry="23"/><text x="752" y="2108">ADP [músculo]</text></g>
<g id="n-accoa" class="node"><ellipse cx="1144" cy="2102" rx="58" ry="23"/><text x="1144" y="2108">Acetil CoA</text></g>
<g id="n-udpg" class="node"><ellipse cx="3152" cy="2102" rx="65" ry="23"/><text x="3152" y="2108">UDP-glicose</text></g>
<g id="n-amilo" class="node"><ellipse cx="3447" cy="2101" rx="155" ry="37"/><text x="3447" y="2096.25"><tspan x="3447">Enzima amilo-1,4-1,6-glicosidase</tspan><tspan x="3447" dy="21.5">ramificadora [fígado, rim, músculo]</tspan></text></g>
<g id="n-gr44m" class="node"><ellipse cx="4361" cy="2101" rx="103" ry="37"/><text x="4361" y="2096.25"><tspan x="4361">Glicogênio ramificado</tspan><tspan x="4361" dy="21.5">4,4 [músculo]</tspan></text></g>
<g id="n-e14am" class="node"><ellipse cx="4724" cy="2101" rx="177" ry="37"/><text x="4724" y="2096.25"><tspan x="4724">Enzima 1,4-a-glicosidase desramificadora</tspan><tspan x="4724" dy="21.5">(lisossomos no músculo)</tspan></text></g>
<g id="n-fosfri" class="node"><ellipse cx="5067" cy="2101" rx="81" ry="37"/><text x="5067" y="2096.25"><tspan x="5067">Fosfato [fígado,</tspan><tspan x="5067" dy="21.5">rim, intestino]</tspan></text></g>
<g id="n-lacf" class="node"><ellipse cx="89" cy="2209" rx="77" ry="23"/><text x="89" y="2215">Lactato [fígado]</text></g>
<g id="n-atp" class="node"><ellipse cx="489" cy="2209" rx="73" ry="23"/><text x="489" y="2215">ATP [músculo]</text></g>
<g id="n-amp" class="node"><ellipse cx="751" cy="2209" rx="77" ry="23"/><text x="751" y="2215">AMP [músculo]</text></g>
<g id="n-accoaf" class="node"><ellipse cx="1075" cy="2209" rx="88" ry="23"/><text x="1075" y="2215">Acetil CoA [fígado]</text></g>
<g id="n-accoam" class="node"><ellipse cx="1292" cy="2209" rx="96" ry="23"/><text x="1292" y="2215">Acetil CoA [músculo]</text></g>
<g id="n-glin" class="node"><ellipse cx="3099" cy="2209" rx="81" ry="23"/><text x="3099" y="2215">Glicogênio linear</text></g>
<g id="n-vacuolos" class="node"><ellipse cx="4259" cy="2207" rx="146" ry="37"/><text x="4259" y="2202.25"><tspan x="4259">Glicogênio na forma</tspan><tspan x="4259" dy="21.5">de vacúolos abaixo do sarcolema</tspan></text></g>
<g id="n-gr16m" class="node"><ellipse cx="4585" cy="2208" rx="105" ry="37"/><text x="4585" y="2203.25"><tspan x="4585">Glicogênio ramificado</tspan><tspan x="4585" dy="21.5">1,6 [músculo]</tspan></text></g>
<g id="n-gr14m" class="node"><ellipse cx="4868" cy="2208" rx="104" ry="37"/><text x="4868" y="2203.25"><tspan x="4868">Glicogênio ramificado</tspan><tspan x="4868" dy="21.5">1,4 [músculo]</tspan></text></g>
<g id="n-fospl" class="node"><ellipse cx="5075" cy="2209" rx="79" ry="23"/><text x="5075" y="2215">Fosfato [plasma]</text></g>
<g id="n-ativ" class="node"><ellipse cx="271" cy="2316" rx="96" ry="37"/><text x="271" y="2311.25"><tspan x="271">Atividade</tspan><tspan x="271" dy="21.5">das bombas iônicas</tspan></text></g>
<g id="n-regen" class="node"><ellipse cx="489" cy="2316" rx="97" ry="37"/><text x="489" y="2311.25"><tspan x="489">Regeneração</tspan><tspan x="489" dy="21.5">do ADP da miosina</tspan></text></g>
<g id="n-adenina" class="node"><ellipse cx="700" cy="2316" rx="88" ry="23"/><text x="700" y="2322">Adenina [músculo]</text></g>
<g id="n-acgraxo" class="node"><ellipse cx="908" cy="2316" rx="95" ry="23"/><text x="908" y="2322">Ácido graxo [fígado]</text></g>
<g id="n-colest" class="node"><ellipse cx="1112" cy="2316" rx="84" ry="23"/><text x="1112" y="2322">Colesterol [fígado]</text></g>
<g id="n-hipotr" class="node"><ellipse cx="1317" cy="2316" rx="91" ry="23"/><text x="1317" y="2322">Hipotrofia [músculo]</text></g>
<g id="n-gr44" class="node"><ellipse cx="1618" cy="2316" rx="77" ry="37"/><text x="1618" y="2311.25"><tspan x="1618">Glicogênio</tspan><tspan x="1618" dy="21.5">ramificado 4,4</tspan></text></g>
<g id="n-grfri" class="node"><ellipse cx="2071" cy="2316" rx="107" ry="37"/><text x="2071" y="2311.25"><tspan x="2071">Glicogênio ramificado</tspan><tspan x="2071" dy="21.5">[fígado, rim, intestino]</tspan></text></g>
<g id="n-gram" class="node"><ellipse cx="3188" cy="2316" rx="99" ry="23"/><text x="3188" y="2322">Glicogênio ramificado</text></g>
<g id="n-glim" class="node"><ellipse cx="4724" cy="2316" rx="83" ry="23"/><text x="4724" y="2322">Glicose [músculo]</text></g>
<g id="n-transp" class="node"><ellipse cx="271" cy="2422" rx="111" ry="37"/><text x="271" y="2417.25"><tspan x="271">Transporte de</tspan><tspan x="271" dy="21.5">Cálcio para as cisternas</tspan></text></g>
<g id="n-hipox" class="node"><ellipse cx="700" cy="2423" rx="103" ry="23"/><text x="700" y="2429">Hipoxantina [músculo]</text></g>
<g id="n-extrem" class="node"><ellipse cx="1318" cy="2423" rx="87" ry="23"/><text x="1318" y="2429">Extremidades finas</text></g>
<g id="n-gr16" class="node"><ellipse cx="1926" cy="2422" rx="77" ry="37"/><text x="1926" y="2417.25"><tspan x="1926">Glicogênio</tspan><tspan x="1926" dy="21.5">ramificado 1,6</tspan></text></g>
<g id="n-fgmm" class="node"><ellipse cx="3872" cy="2423" rx="112" ry="23"/><text x="3872" y="2429">Enzima fosfoglico mutase</text></g>
<g id="n-glinm" class="node"><ellipse cx="4491" cy="2422" rx="84" ry="37"/><text x="4491" y="2417.25"><tspan x="4491">Glicogênio</tspan><tspan x="4491" dy="21.5">linear [músculo]</tspan></text></g>
<g id="n-calcio" class="node"><ellipse cx="272" cy="2530" rx="79" ry="23"/><text x="272" y="2536">Cálcio [músculo]</text></g>
<g id="n-necrose" class="node"><ellipse cx="451" cy="2530" rx="74" ry="23"/><text x="451" y="2536">Necrose celular</text></g>
<g id="n-xantina" class="node"><ellipse cx="700" cy="2530" rx="87" ry="23"/><text x="700" y="2536">Xantina [músculo]</text></g>
<g id="n-gbc" class="node"><ellipse cx="1597" cy="2530" rx="106" ry="37"/><text x="1597" y="2525.25"><tspan x="1597">Glicogênio com</tspan><tspan x="1597" dy="21.5">braços externos curtos</tspan></text></g>
<g id="n-aspecto" class="node"><ellipse cx="1927" cy="2530" rx="196" ry="37"/><text x="1927" y="2525.25"><tspan x="1927">Aspecto de célula vegetal após</tspan><tspan x="1927" dy="21.5">remoção por fixadores aquosos como o formol</tspan></text></g>
<g id="n-volume" class="node"><ellipse cx="2267" cy="2530" rx="118" ry="37"/><text x="2267" y="2525.25"><tspan x="2267">Volume celular [fígado,</tspan><tspan x="2267" dy="21.5">rim, mucosa do intestino]</tspan></text></g>
<g id="n-g1pm" class="node"><ellipse cx="4011" cy="2529" rx="87" ry="37"/><text x="4011" y="2524.25"><tspan x="4011">Glicose-1-fosfato</tspan><tspan x="4011" dy="21.5">[músculo]</tspan></text></g>
<g id="n-caimbras" class="node"><ellipse cx="136" cy="2636" rx="52" ry="23"/><text x="136" y="2642">Câimbras</text></g>
<g id="n-dor" class="node"><ellipse cx="280" cy="2636" rx="66" ry="23"/><text x="280" y="2642">Dor muscular</text></g>
<g id="n-rabdo" class="node"><ellipse cx="451" cy="2636" rx="67" ry="23"/><text x="451" y="2642">Rabdomiólise</text></g>
<g id="n-aum" class="node"><ellipse cx="699" cy="2636" rx="100" ry="23"/><text x="699" y="2642">Ácido úrico [músculo]</text></g>
<g id="n-hepato" class="node"><ellipse cx="1597" cy="2636" rx="73" ry="23"/><text x="1597" y="2642">Hepatomegalia</text></g>
<g id="n-diarreia" class="node"><ellipse cx="2196" cy="2636" rx="47" ry="23"/><text x="2196" y="2642">Diarréia</text></g>
<g id="n-nefro" class="node"><ellipse cx="2336" cy="2636" rx="67" ry="23"/><text x="2336" y="2642">Nefromegalia</text></g>
<g id="n-g6pm" class="node"><ellipse cx="3872" cy="2636" rx="86" ry="37"/><text x="3872" y="2631.25"><tspan x="3872">Glicose-6-fosfato</tspan><tspan x="3872" dy="21.5">[músculo]</tspan></text></g>
<g id="n-mioglo" class="node"><ellipse cx="479" cy="2728" rx="69" ry="23"/><text x="479" y="2734">Mioglobinúria</text></g>
<g id="n-aup" class="node"><ellipse cx="700" cy="2728" rx="96" ry="23"/><text x="700" y="2734">Ácido úrico [plasma]</text></g>
<g id="n-urina" class="node"><ellipse cx="370" cy="2820" rx="64" ry="23"/><text x="370" y="2826">Urina escura</text></g>
<g id="n-insren" class="node"><ellipse cx="526" cy="2819" rx="71" ry="37"/><text x="526" y="2814.25"><tspan x="526">Insuficiência</tspan><tspan x="526" dy="21.5">renal aguda</tspan></text></g>
<g id="footer"><text class="foot" x="6319" y="2840" style="font-size:14px">bioinfo.ufc.br</text><text class="foot" x="6319" y="2853" style="font-size:11.5px">Prof. Alberto M. Soares</text></g>
</svg>
